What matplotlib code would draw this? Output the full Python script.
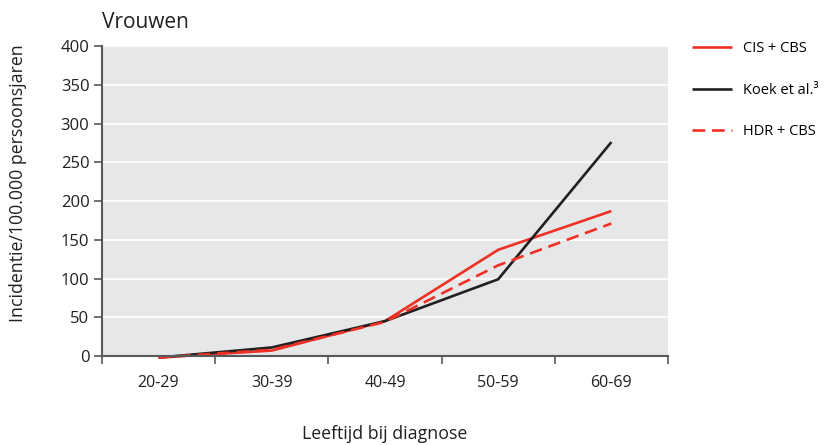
import numpy as np
import matplotlib
matplotlib.use("Agg")
from matplotlib import pyplot as plt

plt.rcParams['font.family'] = ['Open Sans', 'DejaVu Sans']

# data
age_groups = ['20-29', '30-39', '40-49', '50-59', '60-69']
cis_cbs = [-2, 7, 45, 137, 187]
koek = [-2, 11, 45, 99, 276]
hdr_cbs = [-2, 8, 44, 117, 171]
y_ticks = [0, 50, 100, 150, 200, 250, 300, 350, 400]

red = '#EE3124'
black = '#231F20'
axis_grey = '#58595B'

fig = plt.figure(figsize=(8.33, 4.45), dpi=100)
ax = fig.add_axes([0.1224, 0.2, 0.6795, 0.6966])
ax.set_facecolor('#E6E7E8')

x = np.arange(len(age_groups)) + 0.5
ax.plot(x, cis_cbs, color=red, lw=1.9, label='CIS + CBS', solid_capstyle='butt', clip_on=False)
ax.plot(x, koek, color=black, lw=1.9, label='Koek et al.³', solid_capstyle='butt', clip_on=False)
ax.plot(x, hdr_cbs, color=red, lw=1.9, ls=(0, (4.8, 2.6)), label='HDR + CBS', clip_on=False)

ax.set_xlim(0, len(age_groups))
ax.set_ylim(0, 400)
ax.set_yticks(y_ticks)
ax.yaxis.grid(True, color='white', lw=1.2)
ax.set_axisbelow(True)

ax.set_xticks(np.arange(len(age_groups) + 1))
ax.set_xticklabels([])
ax.set_xticks(x, minor=True)
ax.set_xticklabels(age_groups, minor=True)
ax.tick_params(axis='x', which='major', direction='out', length=6, width=1.2, color=axis_grey)
ax.tick_params(axis='x', which='minor', length=0, pad=14, labelsize=11.5, labelcolor='#231F20')
ax.tick_params(axis='y', direction='out', length=6, width=1.2, color=axis_grey, labelsize=12,
               labelcolor='#231F20', pad=3)

for side in ['top', 'right']:
    ax.spines[side].set_visible(False)
for side in ['left', 'bottom']:
    ax.spines[side].set_color(axis_grey)
    ax.spines[side].set_linewidth(1.5)

ax.set_ylabel('Incidentie/100.000 persoonsjaren', fontsize=12.8, color='#231F20')
ax.yaxis.set_label_coords(-0.133, 0.558)
ax.set_xlabel('Leeftijd bij diagnose', fontsize=12.8, color='#231F20')
ax.xaxis.set_label_coords(0.5, -0.222)
fig.text(0.1224, 0.95, 'Vrouwen', fontsize=15, color='#231F20', ha='left', va='center')

fig.legend(loc='upper left', bbox_to_anchor=(0.824, 0.92), frameon=False, fontsize=10.5,
           handlelength=2.7, handletextpad=0.8, labelspacing=1.8, borderaxespad=0)

fig.savefig('out.png', dpi=100)
